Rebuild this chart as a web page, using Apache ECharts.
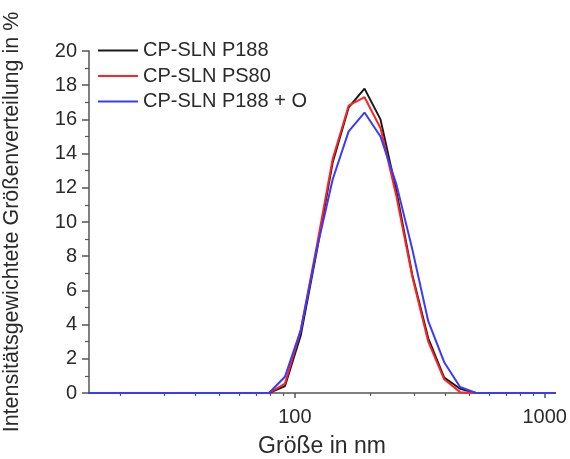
<!DOCTYPE html>
<html>
<head>
<meta charset="utf-8">
<script src="https://cdn.jsdelivr.net/npm/echarts@6/dist/echarts.min.js"></script>
<style>
  html, body { margin: 0; padding: 0; background: #fff; }
  #chart { width: 570px; height: 459px; }
</style>
</head>
<body>
<div id="chart"></div>
<script>
// Partikelgrößen (nm), Messklassen
const sizes = [13.54, 15.69, 18.17, 21.04, 24.36, 28.21, 32.67, 37.84, 43.82, 50.75,
  58.77, 68.06, 78.82, 91.28, 105.7, 122.4, 141.8, 164.2, 190.1, 220.2,
  255.0, 295.3, 342.0, 396.1, 458.7, 531.2, 615.1, 712.4, 825.0, 955.4, 1106]

const p188 = [0, 0, 0, 0, 0, 0, 0, 0, 0, 0,
  0, 0, 0, 0.4, 3.4, 8.3, 13.5, 16.7, 17.8, 16.0,
  11.8, 6.9, 3.2, 0.9, 0.25, 0, 0, 0, 0, 0, 0]
const ps80 = [0, 0, 0, 0, 0, 0, 0, 0, 0, 0,
  0, 0, 0, 0.55, 3.7, 8.6, 13.7, 16.8, 17.3, 15.5,
  11.5, 6.8, 3.0, 0.8, 0.05, 0, 0, 0, 0, 0, 0]
const p188o = [0, 0, 0, 0, 0, 0, 0, 0, 0, 0,
  0, 0, 0, 0.95, 3.7, 8.4, 12.5, 15.3, 16.4, 15.0,
  12.2, 8.4, 4.2, 1.8, 0.35, 0, 0, 0, 0, 0, 0]

const names = ['CP-SLN P188', 'CP-SLN PS80', 'CP-SLN P188 + O']
const colors = ['#1a1a1a', '#ff2424', '#3a3aff']

const majorX = [100, 1000]
const minorX = [20, 30, 40, 50, 60, 70, 80, 90, 200, 300, 400, 500, 600, 700, 800, 900]

const font = '"Liberation Sans", Arial, sans-serif'
const textColor = '#2a2a2a'
const axisColor = '#555'

const toPairs = vals => sizes.map((s, i) => [s, vals[i]])

const chart = echarts.init(document.getElementById('chart'))

const xBase = {
  type: 'log',
  logBase: 10,
  min: 15,
  max: 1100,
  gridIndex: 0,
  position: 'bottom',
  splitLine: {show: false},
  minorTick: {show: false},
}

chart.setOption({
  animation: false,
  backgroundColor: '#fff',
  textStyle: {fontFamily: font},
  grid: {left: 89, right: 15, top: 51, bottom: 66, outerBoundsMode: 'none'},
  legend: {
    orient: 'vertical',
    left: 98,
    top: 40.5,
    padding: 0,
    icon: 'rect',
    itemWidth: 40,
    itemHeight: 2,
    itemGap: 5.5,
    data: names,
    textStyle: {fontFamily: font, fontSize: 20, color: textColor},
  },
  xAxis: [
    Object.assign({}, xBase, {
      name: 'Größe in nm',
      nameLocation: 'middle',
      nameGap: 42,
      nameTextStyle: {fontFamily: font, fontSize: 23, color: textColor},
      axisLine: {lineStyle: {color: axisColor, width: 1.5}},
      axisTick: {length: 5, customValues: majorX, lineStyle: {color: axisColor, width: 1.5}},
      axisLabel: {
        customValues: majorX,
        margin: 14,
        fontSize: 20,
        color: textColor,
        fontFamily: font,
        formatter: v => String(Math.round(v)),
      },
    }),
    Object.assign({}, xBase, {
      axisLine: {show: false},
      axisTick: {length: 3, customValues: minorX, lineStyle: {color: axisColor, width: 1.2}},
      axisLabel: {show: false, customValues: minorX},
    }),
  ],
  yAxis: {
    type: 'value',
    min: 0,
    max: 20,
    interval: 2,
    name: 'Intensitätsgewichtete Größenverteilung in %',
    nameLocation: 'middle',
    nameGap: 66,
    nameTextStyle: {fontFamily: font, fontSize: 21.5, color: textColor},
    splitLine: {show: false},
    axisLine: {show: true, lineStyle: {color: axisColor, width: 1.5}},
    axisTick: {show: true, length: 7, lineStyle: {color: axisColor, width: 1.5}},
    minorTick: {show: true, splitNumber: 2, length: 4, lineStyle: {color: axisColor, width: 1.2}},
    axisLabel: {margin: 12, fontSize: 20, color: textColor, fontFamily: font},
  },
  series: [p188, ps80, p188o].map((vals, i) => ({
    name: names[i],
    type: 'line',
    xAxisIndex: 0,
    data: toPairs(vals),
    symbol: 'none',
    clip: true,
    lineStyle: {color: colors[i], width: 2},
    itemStyle: {color: colors[i]},
  })),
})
</script>
</body>
</html>
